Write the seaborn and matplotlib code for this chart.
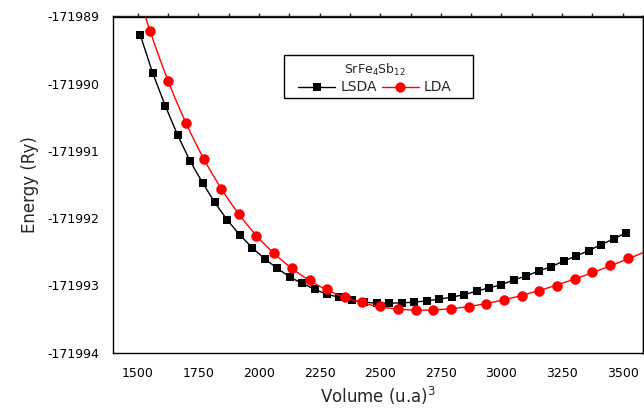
import numpy as np
import matplotlib
matplotlib.use("Agg")
import matplotlib.pyplot as plt
import seaborn as sns
from matplotlib.lines import Line2D
from matplotlib.patches import Rectangle
from matplotlib.ticker import MultipleLocator, FuncFormatter

# Total energy vs. cell volume for SrFe4Sb12
lsda_volume = [1511, 1562, 1614, 1665, 1716, 1768, 1818, 1870, 1921, 1973,
               2024, 2075, 2127, 2178, 2230, 2281, 2332, 2383, 2435, 2486,
               2537, 2589, 2640, 2691, 2743, 2794, 2846, 2897, 2948, 3000,
               3051, 3102, 3154, 3205, 3256, 3308, 3359, 3410, 3462, 3513]
lsda_energy = [-171989.275, -171989.836, -171990.327, -171990.763, -171991.146,
               -171991.473, -171991.765, -171992.028, -171992.247, -171992.440,
               -171992.604, -171992.743, -171992.872, -171992.970, -171993.055,
               -171993.134, -171993.174, -171993.219, -171993.249, -171993.263,
               -171993.263, -171993.259, -171993.249, -171993.229, -171993.204,
               -171993.174, -171993.137, -171993.085, -171993.036, -171992.988,
               -171992.917, -171992.859, -171992.784, -171992.720, -171992.638,
               -171992.561, -171992.482, -171992.393, -171992.307, -171992.217]

lda_volume = [1553, 1626, 1699, 1772, 1844, 1917, 1990, 2063, 2136, 2209,
              2282, 2355, 2427, 2500, 2573, 2646, 2719, 2792, 2865, 2938,
              3010, 3083, 3156, 3229, 3302, 3375, 3448, 3520]
lda_energy = [-171989.216, -171989.964, -171990.585, -171991.121, -171991.567,
              -171991.939, -171992.262, -171992.524, -171992.738, -171992.914,
              -171993.060, -171993.170, -171993.251, -171993.308, -171993.353,
              -171993.368, -171993.368, -171993.353, -171993.318, -171993.275,
              -171993.219, -171993.159, -171993.080, -171993.003, -171992.906,
              -171992.807, -171992.702, -171992.589]

x_ticks = [1500, 1750, 2000, 2250, 2500, 2750, 3000, 3250, 3500]
y_ticks = [-171994, -171993, -171992, -171991, -171990, -171989]
x_range = (1400, 3582)
y_range = (-171994, -171989)

sns.set_style("white")
plt.rcParams["font.family"] = ["DejaVu Sans"]
plt.rcParams["mathtext.fontset"] = "dejavusans"
plt.rcParams["axes.linewidth"] = 1.0

fig = plt.figure(figsize=(6.44, 4.09), dpi=100)
ax = fig.add_axes([113.3 / 644, 1 - 352.7 / 409, (642.7 - 113.3) / 644, (352.7 - 16.5) / 409])

# LSDA: points joined by straight segments
sns.lineplot(x=lsda_volume, y=lsda_energy, color="black", linewidth=1.0,
             marker="s", markersize=6.4, markeredgewidth=0,
             estimator=None, sort=False, ax=ax, zorder=2)

# LDA: equation-of-state fit (cubic in V^-2/3) through the computed points
v_arr = np.asarray(lda_volume, dtype=float)
e_arr = np.asarray(lda_energy, dtype=float)
e_ref = e_arr.mean()
z = (v_arr / 2500.0) ** (-2.0 / 3.0)
coef = np.polyfit(z, e_arr - e_ref, 3)
v_fit = np.linspace(x_range[0], x_range[1], 400)
e_fit = np.polyval(coef, (v_fit / 2500.0) ** (-2.0 / 3.0)) + e_ref
sns.lineplot(x=v_fit, y=e_fit, color="red", linewidth=1.0,
             estimator=None, sort=False, ax=ax, zorder=3)
sns.scatterplot(x=lda_volume, y=lda_energy, color="red", s=52,
                edgecolor="red", linewidth=0.3, ax=ax, zorder=4)

ax.set_xlim(*x_range)
ax.set_ylim(*y_range)
ax.set_xticks(x_ticks)
ax.set_yticks(y_ticks)
ax.xaxis.set_minor_locator(MultipleLocator(125))
ax.yaxis.set_minor_locator(MultipleLocator(0.5))
ax.yaxis.set_major_formatter(FuncFormatter(lambda v, p: f"{v:.0f}"))
ax.tick_params(which="major", direction="out", length=5, width=1.0,
               labelsize=9, pad=5, color="black", labelcolor="black")
ax.tick_params(which="minor", direction="out", length=2.6, width=1.0, color="black")
for side in ax.spines.values():
    side.set_color("black")
    side.set_linewidth(1.0)

# short unlabeled ticks on the top and right edges
top = ax.secondary_xaxis("top")
top.set_xticks(x_ticks)
top.xaxis.set_minor_locator(MultipleLocator(125))
top.tick_params(which="both", direction="out", length=2.2, width=1.0, labeltop=False)
right = ax.secondary_yaxis("right")
right.set_yticks(y_ticks)
right.yaxis.set_minor_locator(MultipleLocator(0.5))
right.tick_params(which="both", direction="out", length=2.2, width=1.0, labelright=False)

ax.set_xlabel(r"Volume (u.a)$^{3}$", fontsize=12, labelpad=4)
ax.set_ylabel("Energy (Ry)", fontsize=12, labelpad=6)

handles = [
    Line2D([], [], color="black", linewidth=1.0, marker="s", markersize=6.0, markeredgewidth=0),
    Line2D([], [], color="red", linewidth=1.0, marker="o", markersize=7.0,
           markeredgecolor="red", markeredgewidth=0.3),
]
leg = fig.legend(handles, ["LSDA", "LDA"], title=r"SrFe$_4$Sb$_{12}$",
                 ncol=2, loc="center", bbox_to_anchor=(375 / 644, 1 - 78 / 409),
                 frameon=False, fontsize=10, title_fontsize=9,
                 handlelength=2.66, handletextpad=0.38, columnspacing=0.34,
                 borderpad=0, borderaxespad=0, labelspacing=0.2)
fig.add_artist(Rectangle((284 / 644, 1 - 98.3 / 409), (473.3 - 284) / 644, (98.3 - 55) / 409,
                         transform=fig.transFigure, fill=False, edgecolor="black",
                         linewidth=1.0, zorder=5))

fig.savefig("out.png", dpi=100)
